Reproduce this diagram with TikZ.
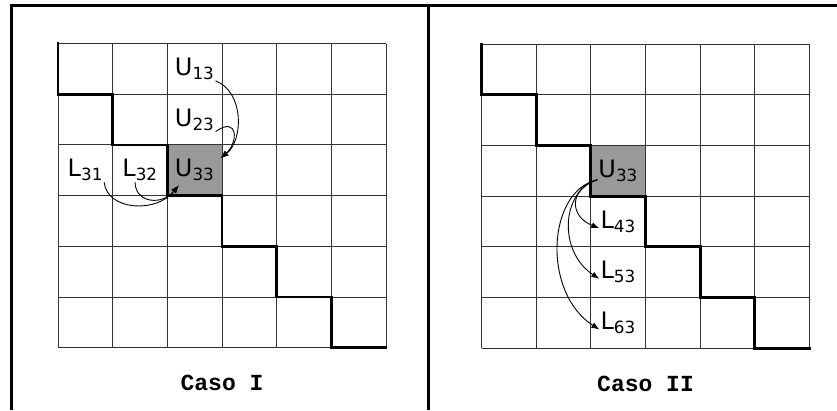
\documentclass[tikz,border=0pt]{standalone}
\usepackage{fontspec}
\usetikzlibrary{arrows.meta}
\setmainfont{DejaVu Sans}
\newfontfamily\casofont{Liberation Mono}
\newcommand{\ent}[2]{#1\textsubscript{#2}}
\tikzset{
  celda/.style={black!80, line width=0.9pt},
  escalera/.style={line width=2.8pt, line cap=rect},
  pivote/.style={fill=black!40},
  entrada/.style={inner sep=1pt, font=\fontsize{24}{28}\selectfont},
  flecha/.style={-{Latex[length=8pt,width=6pt]}, line width=0.9pt},
  caso/.style={font=\casofont\bfseries\fontsize{23}{26}\selectfont},
}
\begin{document}
\begin{tikzpicture}[x=1pt,y=-1pt]
\useasboundingbox (0,0) rectangle (837,410);
\draw[line width=3pt] (11,410) -- (11,5.5) -- (837,5.5);
\draw[line width=3pt] (428,5.5) -- (428,410);
% Caso I
\begin{scope}[shift={(58,43.5)}, x=54.67pt, y=-50.7pt]
  \fill[pivote] (2,2) rectangle (3,3);
  \foreach \i in {0,...,6} {
    \draw[celda] (\i,0) -- (\i,6);
    \draw[celda] (0,\i) -- (6,\i);
  }
  \draw[escalera] (0,0) -- (0,1) -- (1,1) -- (1,2) -- (2,2) -- (2,3) -- (3,3)
    -- (3,4) -- (4,4) -- (4,5) -- (5,5) -- (5,6) -- (6,6);
  \node[entrada] (u13) at (2.5,0.5) {\ent{U}{13}};
  \node[entrada] (u23) at (2.5,1.5) {\ent{U}{23}};
  \node[entrada] (u33) at (2.5,2.5) {\ent{U}{33}};
  \node[entrada] (l31) at (0.5,2.5) {\ent{L}{31}};
  \node[entrada] (l32) at (1.5,2.5) {\ent{L}{32}};
  \draw[flecha] (u13.south east) .. controls (3.4,0.95) and (3.4,1.9) .. ([xshift=5pt]u33.north east);
  \draw[flecha] (u23.south east) .. controls (3.3,1.42) and (3.3,1.95) .. ([xshift=5pt]u33.north east);
  \draw[flecha] (l31.south east) .. controls (0.9,3.3) and (1.8,3.35) .. ([xshift=5pt,yshift=-3pt]u33.south west);
  \draw[flecha] ([xshift=-5pt]l32.south) .. controls (1.42,3.15) and (1.9,3.2) .. ([xshift=5pt,yshift=-3pt]u33.south west);
  \node[caso] (casoI) at (3,6.7) {Caso I};
\end{scope}
% Caso II
\begin{scope}[shift={(481.5,44)}, x=54.67pt, y=-50.7pt]
  \fill[pivote] (2,2) rectangle (3,3);
  \foreach \i in {0,...,6} {
    \draw[celda] (\i,0) -- (\i,6);
    \draw[celda] (0,\i) -- (6,\i);
  }
  \draw[escalera] (0,0) -- (0,1) -- (1,1) -- (1,2) -- (2,2) -- (2,3) -- (3,3)
    -- (3,4) -- (4,4) -- (4,5) -- (5,5) -- (5,6) -- (6,6);
  \node[entrada] (v33) at (2.5,2.5) {\ent{U}{33}};
  \node[entrada] (l43) at (2.5,3.5) {\ent{L}{43}};
  \node[entrada] (l53) at (2.5,4.5) {\ent{L}{53}};
  \node[entrada] (l63) at (2.5,5.5) {\ent{L}{63}};
  \draw[flecha] ([yshift=3pt]v33.south west) .. controls (1.6,2.85) and (1.6,3.4) .. (l43.base west);
  \draw[flecha] ([yshift=3pt]v33.south west) .. controls (1.45,2.9) and (1.4,4.1) .. (l53.base west);
  \draw[flecha] ([yshift=3pt]v33.south west) .. controls (1.2,2.9) and (1.1,4.9) .. (l63.base west);
  \node[caso] (casoII) at (3,6.7) {Caso II};
\end{scope}
\end{tikzpicture}
\end{document}
